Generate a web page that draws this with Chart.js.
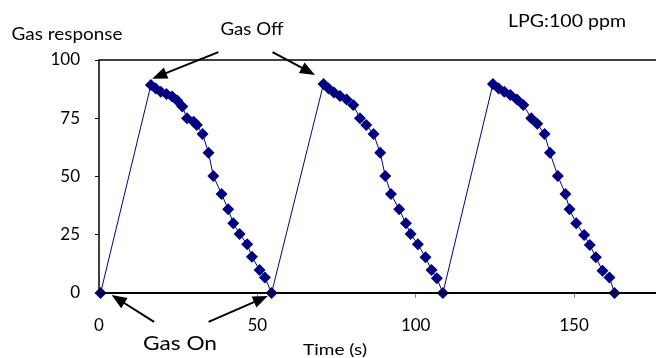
<!DOCTYPE html>
<html>
<head>
<meta charset="utf-8">
<script src="https://cdn.jsdelivr.net/npm/chart.js@4/dist/chart.umd.min.js"></script>
<style>
html,body{margin:0;padding:0;background:#fff;}
#wrap{position:relative;width:656px;height:358px;}
</style>
</head>
<body>
<div id="wrap"><canvas id="c" width="656" height="358"></canvas></div>
<script>
// Time (s) of each reading
const timeValues = [
  0.5, 16.4, 17.9, 19.5, 21.3, 23.1, 24.7, 26.3, 27.8, 29.9, 30.9, 32.7, 34.6, 36.1, 38.7, 40.8, 42.4, 44.4, 46.8, 48.3, 50.7, 52.4, 54.5,
  70.9, 72.5, 74.2, 76.1, 78.2, 80.3, 82.4, 84.4, 86.7, 88.8, 90.4, 92.2, 94.8, 96.9, 98.4, 100.7, 103.1, 105.0, 106.7, 108.6,
  124.4, 126.2, 128.0, 129.9, 132.0, 134.0, 136.5, 138.4, 140.7, 142.4, 144.9, 147.3, 148.6, 150.7, 153.2, 155.0, 156.9, 159.0, 161.2, 162.8
];
// Gas response values
const responseValues = [
  0, 89.3, 87.8, 86.4, 85.4, 84.3, 82.6, 80.0, 75.0, 73.5, 72.1, 68.2, 60.2, 50.2, 42.5, 35.9, 29.9, 25.3, 20.9, 15.6, 9.9, 6.7, 0,
  89.7, 87.8, 86.0, 84.5, 83.1, 80.7, 75.0, 72.1, 68.2, 60.2, 50.2, 42.5, 35.9, 29.9, 25.3, 20.9, 15.3, 9.9, 6.3, 0,
  89.7, 87.8, 86.4, 85.0, 83.1, 80.7, 75.0, 72.6, 68.2, 60.2, 50.2, 42.5, 35.9, 29.9, 24.9, 20.6, 15.3, 9.6, 6.7, 0
];
const xTickValues = [0, 50, 100, 150];
const yTickValues = [0, 25, 50, 75, 100];

// Annotation arrows in data units: [fromX, fromY, toX, toY]
const gasOffArrows = [[37.7, 103.4, 16.8, 92.0], [54.8, 103.4, 68.2, 93.6]];
const gasOnArrows = [[17.4, -12.4, 4.0, -0.9], [34.6, -12.4, 53.3, -1.3]];

const FONT = "Lato, 'Open Sans', sans-serif";
const points = timeValues.map((t, i) => ({x: t, y: responseValues[i]}));

function drawArrow(ctx, x1, y1, x2, y2) {
  const ang = Math.atan2(y2 - y1, x2 - x1);
  const hl = 15, hw = 6;
  ctx.save();
  ctx.strokeStyle = '#000';
  ctx.fillStyle = '#000';
  ctx.lineWidth = 2;
  ctx.beginPath();
  ctx.moveTo(x1, y1);
  ctx.lineTo(x2 - Math.cos(ang) * hl * 0.8, y2 - Math.sin(ang) * hl * 0.8);
  ctx.stroke();
  ctx.beginPath();
  ctx.moveTo(x2, y2);
  ctx.lineTo(x2 - Math.cos(ang) * hl - Math.sin(ang) * hw, y2 - Math.sin(ang) * hl + Math.cos(ang) * hw);
  ctx.lineTo(x2 - Math.cos(ang) * hl + Math.sin(ang) * hw, y2 - Math.sin(ang) * hl - Math.cos(ang) * hw);
  ctx.closePath();
  ctx.fill();
  ctx.restore();
}

function fitText(ctx, text, cx, cy, width, size) {
  ctx.font = size + 'px ' + FONT;
  const w = ctx.measureText(text).width;
  ctx.save();
  ctx.translate(cx, cy);
  ctx.scale(width / w, 1);
  ctx.fillText(text, 0, 0);
  ctx.restore();
}

const annotPlugin = {
  id: 'annot',
  afterDatasetsDraw(chart) {
    const ctx = chart.ctx;
    const xs = chart.scales.x, ys = chart.scales.y;
    const ca = chart.chartArea;
    ctx.save();
    ctx.strokeStyle = '#000';
    ctx.lineWidth = 1.5;
    ctx.beginPath();
    ctx.moveTo(ca.left, ca.bottom);
    ctx.lineTo(ca.left, ca.top);
    ctx.lineTo(656, ca.top);
    ctx.stroke();
    ctx.lineWidth = 2;
    ctx.beginPath();
    ctx.moveTo(ca.left, ca.bottom);
    ctx.lineTo(656, ca.bottom);
    ctx.stroke();
    ctx.restore();
    [...gasOffArrows, ...gasOnArrows].forEach(a => {
      drawArrow(ctx, xs.getPixelForValue(a[0]), ys.getPixelForValue(a[1]),
                xs.getPixelForValue(a[2]), ys.getPixelForValue(a[3]));
    });
    ctx.save();
    ctx.fillStyle = '#000';
    ctx.textAlign = 'center';
    ctx.textBaseline = 'middle';
    fitText(ctx, 'Gas response', 67, 35, 111, 17);
    fitText(ctx, 'Gas Off', 252, 30, 63, 17);
    fitText(ctx, 'LPG:100 ppm', 567, 22, 118, 17);
    fitText(ctx, 'Time (s)', 335, 350, 64, 16);
    fitText(ctx, 'Gas On', 180, 344, 74, 19);
    ctx.restore();
  }
};

new Chart(document.getElementById('c'), {
  type: 'scatter',
  data: {
    datasets: [{
      data: points,
      showLine: true,
      borderColor: '#000080',
      borderWidth: 1,
      backgroundColor: '#000080',
      pointBackgroundColor: '#000080',
      pointBorderColor: '#000080',
      pointStyle: 'rectRot',
      pointRadius: 6,
      pointBorderWidth: 0,
      tension: 0,
      clip: false
    }]
  },
  options: {
    responsive: false,
    animation: false,
    devicePixelRatio: 1,
    layout: {padding: {top: 60, right: 0, left: 0, bottom: 0}},
    plugins: {legend: {display: false}, tooltip: {enabled: false}},
    scales: {
      x: {
        type: 'linear',
        min: 0,
        max: 174,
        afterBuildTicks(s) { s.ticks = xTickValues.map(v => ({value: v})); },
        afterFit(s) { s.height = 65; },
        border: {display: false},
        grid: {display: true, drawOnChartArea: false, drawTicks: true, tickLength: 5, color: '#888'},
        ticks: {color: '#000', padding: 17, maxRotation: 0, font: {family: FONT, size: 17}}
      },
      y: {
        min: 0,
        max: 100,
        afterBuildTicks(s) { s.ticks = yTickValues.map(v => ({value: v})); },
        afterFit(s) { s.width = 99; },
        border: {display: false},
        grid: {display: true, drawOnChartArea: false, drawTicks: true, tickLength: 4, color: '#000'},
        ticks: {color: '#000', padding: 15, font: {family: FONT, size: 17}}
      }
    }
  },
  plugins: [annotPlugin]
});
</script>
</body>
</html>
